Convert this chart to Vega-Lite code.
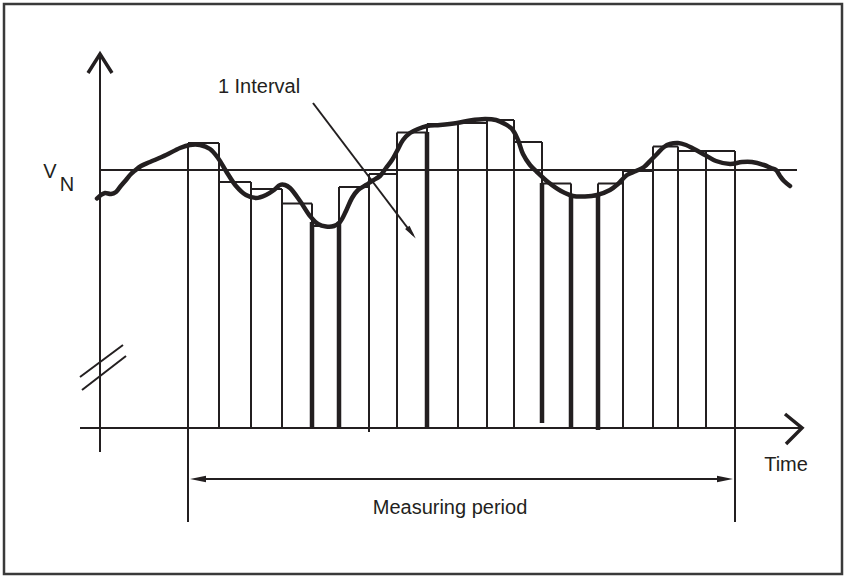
{
  "$schema": "https://vega.github.io/schema/vega-lite/v6.json",
  "width": 845,
  "height": 577,
  "padding": 0,
  "autosize": {"type": "fit", "contains": "padding"},
  "config": {"view": {"stroke": null}},
  "datasets": {
    "frame": [{"x": 4, "x2": 842, "y": 424, "y2": -146}],
    "steps": [
      {"x": 188, "x2": 219, "y": 285},
      {"x": 219, "x2": 251, "y": 246},
      {"x": 251, "x2": 282, "y": 239},
      {"x": 282, "x2": 312, "y": 224.5},
      {"x": 312, "x2": 339, "y": 202},
      {"x": 339, "x2": 369, "y": 241},
      {"x": 369, "x2": 397, "y": 254},
      {"x": 397, "x2": 427, "y": 295.5},
      {"x": 427, "x2": 458, "y": 304},
      {"x": 458, "x2": 487, "y": 305},
      {"x": 487, "x2": 514, "y": 308},
      {"x": 514, "x2": 542, "y": 286},
      {"x": 542, "x2": 571, "y": 244.5},
      {"x": 571, "x2": 598, "y": 231.5},
      {"x": 598, "x2": 623, "y": 244.5},
      {"x": 623, "x2": 653, "y": 257},
      {"x": 653, "x2": 678, "y": 281.5},
      {"x": 678, "x2": 706, "y": 277},
      {"x": 706, "x2": 735, "y": 277}
    ],
    "verticals": [
      {"x": 188, "y": 285, "y2": -94},
      {"x": 219, "y": 285, "y2": 0},
      {"x": 251, "y": 246, "y2": 0},
      {"x": 282, "y": 239, "y2": 0},
      {"x": 312, "y": 224.5, "y2": 0},
      {"x": 339, "y": 241, "y2": 0},
      {"x": 369, "y": 254, "y2": -4},
      {"x": 397, "y": 295.5, "y2": 0},
      {"x": 427, "y": 304, "y2": 0},
      {"x": 458, "y": 305, "y2": 0},
      {"x": 487, "y": 308, "y2": 0},
      {"x": 514, "y": 308, "y2": 0},
      {"x": 542, "y": 286, "y2": 5},
      {"x": 571, "y": 244.5, "y2": 0},
      {"x": 598, "y": 244.5, "y2": -2},
      {"x": 623, "y": 257, "y2": 0},
      {"x": 653, "y": 281.5, "y2": 0},
      {"x": 678, "y": 281.5, "y2": 0},
      {"x": 706, "y": 277, "y2": 0},
      {"x": 735, "y": 277, "y2": -94}
    ],
    "thick": [
      {"x": 312, "y": 206, "y2": 0},
      {"x": 339, "y": 206, "y2": 0},
      {"x": 427, "y": 296, "y2": 0},
      {"x": 542, "y": 245, "y2": 5},
      {"x": 571, "y": 232, "y2": 0},
      {"x": 598, "y": 232, "y2": -2}
    ],
    "thinlines": [
      {"id": "yaxis", "o": 0, "x": 100, "y": 375},
      {"id": "yaxis", "o": 1, "x": 100, "y": -24},
      {"id": "xaxis", "o": 0, "x": 80, "y": 0},
      {"id": "xaxis", "o": 1, "x": 803, "y": 0},
      {"id": "vn", "o": 0, "x": 100, "y": 258},
      {"id": "vn", "o": 1, "x": 797, "y": 258},
      {"id": "break1", "o": 0, "x": 80, "y": 51},
      {"id": "break1", "o": 1, "x": 123, "y": 83},
      {"id": "break2", "o": 0, "x": 82, "y": 38},
      {"id": "break2", "o": 1, "x": 126, "y": 72},
      {"id": "interval", "o": 0, "x": 313, "y": 325},
      {"id": "interval", "o": 1, "x": 413, "y": 193},
      {"id": "period", "o": 0, "x": 195, "y": -51},
      {"id": "period", "o": 1, "x": 728, "y": -51}
    ],
    "chevrons": [
      {"id": "yhead", "o": 0, "x": 88, "y": 355},
      {"id": "yhead", "o": 1, "x": 100, "y": 374},
      {"id": "yhead", "o": 2, "x": 112, "y": 355},
      {"id": "xhead", "o": 0, "x": 785, "y": 14},
      {"id": "xhead", "o": 1, "x": 802, "y": 0},
      {"id": "xhead", "o": 2, "x": 786, "y": -16}
    ],
    "curve": [
      {"x": 97, "y": 229.5}, {"x": 101, "y": 233}, {"x": 105, "y": 235},
      {"x": 111, "y": 234}, {"x": 116, "y": 236}, {"x": 120, "y": 241},
      {"x": 126, "y": 248}, {"x": 131, "y": 254}, {"x": 135, "y": 257.5},
      {"x": 141, "y": 262}, {"x": 150, "y": 266}, {"x": 166, "y": 273},
      {"x": 180, "y": 280}, {"x": 190, "y": 283}, {"x": 200, "y": 283},
      {"x": 210, "y": 279}, {"x": 218, "y": 270}, {"x": 226, "y": 257},
      {"x": 236, "y": 242}, {"x": 246, "y": 233}, {"x": 256, "y": 230},
      {"x": 266, "y": 233}, {"x": 274, "y": 238}, {"x": 280, "y": 243},
      {"x": 285, "y": 243}, {"x": 290, "y": 240}, {"x": 300, "y": 227},
      {"x": 310, "y": 212}, {"x": 318, "y": 204}, {"x": 326, "y": 201.5},
      {"x": 334, "y": 202}, {"x": 340, "y": 206}, {"x": 346, "y": 217},
      {"x": 352, "y": 230}, {"x": 358, "y": 238}, {"x": 366, "y": 243},
      {"x": 372, "y": 247}, {"x": 380, "y": 252}, {"x": 386, "y": 260},
      {"x": 392, "y": 268}, {"x": 397, "y": 277}, {"x": 403, "y": 288},
      {"x": 410, "y": 295}, {"x": 418, "y": 299}, {"x": 427, "y": 302},
      {"x": 440, "y": 303}, {"x": 457, "y": 305}, {"x": 470, "y": 307.5},
      {"x": 485, "y": 309}, {"x": 496, "y": 308}, {"x": 505, "y": 304},
      {"x": 512, "y": 299}, {"x": 518, "y": 288}, {"x": 523, "y": 274},
      {"x": 530, "y": 263}, {"x": 537, "y": 256}, {"x": 548, "y": 246},
      {"x": 561, "y": 237}, {"x": 573, "y": 232}, {"x": 585, "y": 231.5},
      {"x": 597, "y": 233}, {"x": 610, "y": 238}, {"x": 618, "y": 244},
      {"x": 627, "y": 253}, {"x": 636, "y": 257}, {"x": 644, "y": 261},
      {"x": 651, "y": 268}, {"x": 657, "y": 274}, {"x": 664, "y": 281},
      {"x": 670, "y": 284}, {"x": 678, "y": 285}, {"x": 686, "y": 283},
      {"x": 694, "y": 279}, {"x": 705, "y": 273}, {"x": 716, "y": 267},
      {"x": 730, "y": 264}, {"x": 742, "y": 266}, {"x": 752, "y": 266},
      {"x": 764, "y": 263}, {"x": 771, "y": 260}, {"x": 776, "y": 258},
      {"x": 780, "y": 252}, {"x": 784, "y": 247}, {"x": 790, "y": 242}
    ],
    "headRight": [{"x": 725, "y": -51}],
    "headLeft": [{"x": 198, "y": -51}],
    "headInterval": [{"x": 411.5, "y": 195}],
    "labels": [
      {"label": "1 Interval", "x": 259, "y": 341},
      {"label": "V", "x": 50, "y": 256},
      {"label": "N", "x": 67, "y": 243},
      {"label": "Time", "x": 786, "y": -37},
      {"label": "Measuring period", "x": 450, "y": -80}
    ]
  },
  "encoding": {
    "x": {"field": "x", "type": "quantitative", "axis": null, "scale": {"domain": [0, 845], "nice": false, "zero": false}},
    "y": {"field": "y", "type": "quantitative", "axis": null, "scale": {"domain": [-149, 428], "nice": false, "zero": false}}
  },
  "layer": [
    {
      "data": {"name": "frame"},
      "mark": {"type": "rect", "fill": null, "stroke": "#3a3a3a", "strokeWidth": 2.5},
      "encoding": {"x2": {"field": "x2"}, "y2": {"field": "y2"}}
    },
    {
      "data": {"name": "steps"},
      "mark": {"type": "rule", "color": "#231f20", "strokeWidth": 2},
      "encoding": {"x2": {"field": "x2"}}
    },
    {
      "data": {"name": "verticals"},
      "mark": {"type": "rule", "color": "#231f20", "strokeWidth": 2},
      "encoding": {"y2": {"field": "y2"}}
    },
    {
      "data": {"name": "thick"},
      "mark": {"type": "rule", "color": "#231f20", "strokeWidth": 4.5},
      "encoding": {"y2": {"field": "y2"}}
    },
    {
      "data": {"name": "thinlines"},
      "mark": {"type": "line", "color": "#231f20", "strokeWidth": 2},
      "encoding": {"detail": {"field": "id"}, "order": {"field": "o"}}
    },
    {
      "data": {"name": "chevrons"},
      "mark": {"type": "line", "color": "#231f20", "strokeWidth": 3.5, "strokeJoin": "miter"},
      "encoding": {"detail": {"field": "id"}, "order": {"field": "o"}}
    },
    {
      "data": {"name": "curve"},
      "mark": {"type": "line", "color": "#231f20", "strokeWidth": 4.5, "interpolate": "catmull-rom", "strokeCap": "round"},
      "encoding": {"order": {"field": "x"}}
    },
    {
      "data": {"name": "headRight"},
      "mark": {"type": "point", "shape": "M1,0L-1,-0.42L-1,0.42Z", "size": 256, "filled": true, "color": "#231f20", "opacity": 1, "strokeWidth": 0, "angle": 0}
    },
    {
      "data": {"name": "headLeft"},
      "mark": {"type": "point", "shape": "M1,0L-1,-0.42L-1,0.42Z", "size": 256, "filled": true, "color": "#231f20", "opacity": 1, "strokeWidth": 0, "angle": 180}
    },
    {
      "data": {"name": "headInterval"},
      "mark": {"type": "point", "shape": "M1,0L-1,-0.4L-1,0.4Z", "size": 196, "filled": true, "color": "#231f20", "opacity": 1, "strokeWidth": 0, "angle": 52.9}
    },
    {
      "data": {"name": "labels"},
      "mark": {"type": "text", "font": "Liberation Sans", "fontSize": 20, "color": "#231f20", "align": "center", "baseline": "middle"},
      "encoding": {"text": {"field": "label"}}
    }
  ]
}
